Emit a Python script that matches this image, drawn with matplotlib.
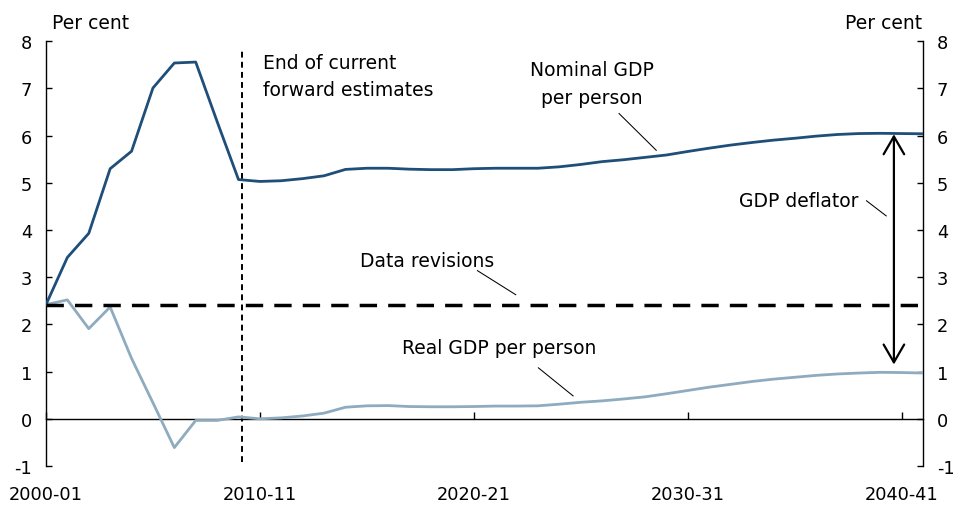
import matplotlib
matplotlib.use("Agg")
import matplotlib.pyplot as plt

plt.rcParams['font.family'] = ['DejaVu Sans']

# ---- data ----
years = [f"{y}-{str(y + 1)[-2:]}" for y in range(2000, 2042)]
nominal_gdp_pp = [2.42, 3.42, 3.93, 5.30, 5.67, 7.01, 7.54, 7.56, 6.30, 5.07,
                  5.03, 5.045, 5.09, 5.15, 5.285, 5.31, 5.31, 5.29, 5.28, 5.28,
                  5.30, 5.31, 5.31, 5.31, 5.34, 5.39, 5.45, 5.49, 5.54, 5.59,
                  5.665, 5.735, 5.80, 5.855, 5.905, 5.945, 5.99, 6.025, 6.045, 6.05,
                  6.045, 6.04]
real_gdp_pp = [2.42, 2.52, 1.91, 2.37, 1.28, 0.34, -0.61, -0.035, -0.035, 0.04,
               0.0, 0.02, 0.06, 0.12, 0.245, 0.275, 0.28, 0.26, 0.255, 0.255,
               0.26, 0.27, 0.27, 0.275, 0.31, 0.35, 0.38, 0.42, 0.465, 0.53,
               0.60, 0.67, 0.73, 0.79, 0.84, 0.88, 0.92, 0.95, 0.97, 0.985,
               0.98, 0.97]
data_revisions_level = 2.41
forward_estimates_end = 9.16
deflator_arrow_x = 39.64
deflator_arrow_low, deflator_arrow_high = 1.15, 6.03
tick_years = ["2000-01", "2010-11", "2020-21", "2030-31", "2040-41"]
y_ticks = list(range(-1, 9))

NOM_COLOR = '#1f4e79'
REAL_COLOR = '#8fabbf'
FS_TICK = 12.8
FS = 13.5

fig = plt.figure(figsize=(9.54, 5.06), dpi=100)
ax = fig.add_axes([0.0482, 0.0771, 0.9193, 0.8393])

x = list(range(len(years)))
ax.plot(x, real_gdp_pp, color=REAL_COLOR, lw=2.0, zorder=3)
ax.plot(x, nominal_gdp_pp, color=NOM_COLOR, lw=2.0, zorder=4)

ax.axhline(data_revisions_level, color='black', lw=2.5, dashes=(5, 3.2), zorder=5)
ax.plot([forward_estimates_end, forward_estimates_end], [-0.92, 7.8], color='black',
        lw=1.4, dashes=(3, 2.2), zorder=2)

ax.set_xlim(0, 41)
ax.set_ylim(-1, 8)

# spines
ax.spines['top'].set_visible(False)
ax.spines['bottom'].set_position(('data', 0))
ax.spines['bottom'].set_linewidth(1.0)
ax.spines['left'].set_linewidth(1.0)
ax.spines['right'].set_linewidth(1.0)

ax.set_yticks(y_ticks)
ax.set_yticklabels([str(v) for v in y_ticks])
ax.tick_params(axis='y', which='both', direction='in', length=4.3, width=1.0,
               left=True, right=True, labelleft=True, labelright=True,
               labelsize=FS_TICK, pad=10)
ax.set_xticks([years.index(t) for t in tick_years])
ax.set_xticklabels(tick_years)
ax.tick_params(axis='x', direction='in', length=5, width=1.0, labelsize=FS_TICK, pad=48)

# texts
fig.text(52 / 954, 1 - 24 / 506, "Per cent", ha='left', va='center', fontsize=FS)
fig.text(922 / 954, 1 - 24 / 506, "Per cent", ha='right', va='center', fontsize=FS)

ax.text(10.15, 7.76, "End of current\nforward estimates", ha='left', va='top',
        fontsize=FS, linespacing=1.58)
ax.text(25.53, 7.11, "Nominal GDP\nper person", ha='center', va='center',
        fontsize=FS, linespacing=1.58, multialignment='center')
ax.text(14.69, 3.35, "Data revisions", ha='left', va='center', fontsize=FS)
ax.text(21.2, 1.51, "Real GDP per person", ha='center', va='center', fontsize=FS)
ax.text(35.2, 4.62, "GDP deflator", ha='center', va='center', fontsize=FS)

# leader lines
for (x0, y0), (x1, y1) in [((20.17, 3.14), (21.96, 2.63)),
                           ((23.02, 1.08), (24.64, 0.486)),
                           ((26.79, 6.47), (28.53, 5.69)),
                           ((38.36, 4.62), (39.28, 4.30))]:
    ax.plot([x0, x1], [y0, y1], color='black', lw=0.75, zorder=6)

# GDP deflator double arrow
ax.annotate("", xy=(deflator_arrow_x, deflator_arrow_high),
            xytext=(deflator_arrow_x, deflator_arrow_low),
            arrowprops=dict(arrowstyle='<->,head_length=0.64,head_width=0.37',
                            mutation_scale=20, lw=1.6, color='black',
                            shrinkA=0, shrinkB=0), zorder=7)

fig.savefig("out.png", dpi=100)
